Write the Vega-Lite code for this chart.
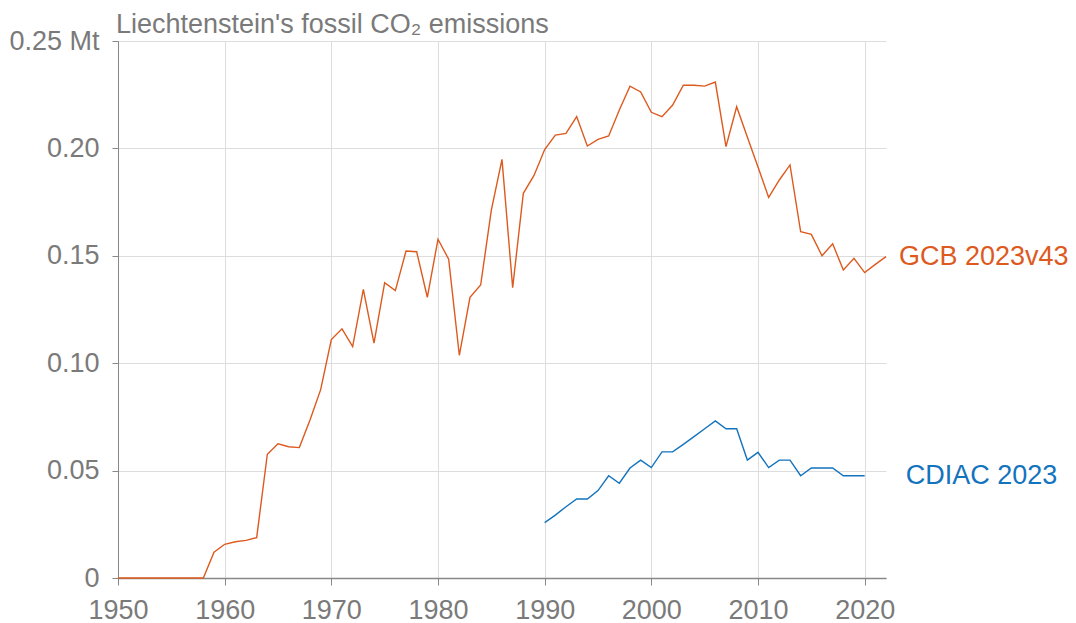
{
  "$schema": "https://vega.github.io/schema/vega-lite/v6.json",
  "width": 768,
  "height": 537,
  "autosize": {"type": "none"},
  "padding": {"left": 118, "top": 41, "right": 190, "bottom": 45},
  "background": "white",
  "config": {
    "font": "Liberation Sans",
    "view": {"stroke": null},
    "axis": {"labelFont": "Liberation Sans", "labelFontSize": 27, "labelColor": "#7a7a7a", "gridColor": "#dddddd", "gridWidth": 1, "domainColor": "#888888", "tickColor": "#888888"}
  },
  "title": {"text": "Liechtenstein's fossil CO₂ emissions", "anchor": "start", "frame": "group", "fontSize": 27, "fontWeight": "normal", "color": "#7a7a7a", "font": "Liberation Sans", "offset": -12, "dx": -2},
  "datasets": {
    "emissions": [
      {"year": 1950, "value": 0, "series": "GCB 2023v43"},
      {"year": 1951, "value": 0, "series": "GCB 2023v43"},
      {"year": 1952, "value": 0, "series": "GCB 2023v43"},
      {"year": 1953, "value": 0, "series": "GCB 2023v43"},
      {"year": 1954, "value": 0, "series": "GCB 2023v43"},
      {"year": 1955, "value": 0, "series": "GCB 2023v43"},
      {"year": 1956, "value": 0, "series": "GCB 2023v43"},
      {"year": 1957, "value": 0, "series": "GCB 2023v43"},
      {"year": 1958, "value": 0, "series": "GCB 2023v43"},
      {"year": 1959, "value": 0.012, "series": "GCB 2023v43"},
      {"year": 1960, "value": 0.0157, "series": "GCB 2023v43"},
      {"year": 1961, "value": 0.0169, "series": "GCB 2023v43"},
      {"year": 1962, "value": 0.0175, "series": "GCB 2023v43"},
      {"year": 1963, "value": 0.0188, "series": "GCB 2023v43"},
      {"year": 1964, "value": 0.0576, "series": "GCB 2023v43"},
      {"year": 1965, "value": 0.0625, "series": "GCB 2023v43"},
      {"year": 1966, "value": 0.0611, "series": "GCB 2023v43"},
      {"year": 1967, "value": 0.0607, "series": "GCB 2023v43"},
      {"year": 1968, "value": 0.0736, "series": "GCB 2023v43"},
      {"year": 1969, "value": 0.0877, "series": "GCB 2023v43"},
      {"year": 1970, "value": 0.111, "series": "GCB 2023v43"},
      {"year": 1971, "value": 0.116, "series": "GCB 2023v43"},
      {"year": 1972, "value": 0.1077, "series": "GCB 2023v43"},
      {"year": 1973, "value": 0.1344, "series": "GCB 2023v43"},
      {"year": 1974, "value": 0.1093, "series": "GCB 2023v43"},
      {"year": 1975, "value": 0.1375, "series": "GCB 2023v43"},
      {"year": 1976, "value": 0.1338, "series": "GCB 2023v43"},
      {"year": 1977, "value": 0.1522, "series": "GCB 2023v43"},
      {"year": 1978, "value": 0.1519, "series": "GCB 2023v43"},
      {"year": 1979, "value": 0.1307, "series": "GCB 2023v43"},
      {"year": 1980, "value": 0.1577, "series": "GCB 2023v43"},
      {"year": 1981, "value": 0.1484, "series": "GCB 2023v43"},
      {"year": 1982, "value": 0.1037, "series": "GCB 2023v43"},
      {"year": 1983, "value": 0.1307, "series": "GCB 2023v43"},
      {"year": 1984, "value": 0.1364, "series": "GCB 2023v43"},
      {"year": 1985, "value": 0.1713, "series": "GCB 2023v43"},
      {"year": 1986, "value": 0.1949, "series": "GCB 2023v43"},
      {"year": 1987, "value": 0.1352, "series": "GCB 2023v43"},
      {"year": 1988, "value": 0.1791, "series": "GCB 2023v43"},
      {"year": 1989, "value": 0.1874, "series": "GCB 2023v43"},
      {"year": 1990, "value": 0.1995, "series": "GCB 2023v43"},
      {"year": 1991, "value": 0.2062, "series": "GCB 2023v43"},
      {"year": 1992, "value": 0.207, "series": "GCB 2023v43"},
      {"year": 1993, "value": 0.2148, "series": "GCB 2023v43"},
      {"year": 1994, "value": 0.2011, "series": "GCB 2023v43"},
      {"year": 1995, "value": 0.2042, "series": "GCB 2023v43"},
      {"year": 1996, "value": 0.2058, "series": "GCB 2023v43"},
      {"year": 1997, "value": 0.2179, "series": "GCB 2023v43"},
      {"year": 1998, "value": 0.229, "series": "GCB 2023v43"},
      {"year": 1999, "value": 0.2263, "series": "GCB 2023v43"},
      {"year": 2000, "value": 0.2168, "series": "GCB 2023v43"},
      {"year": 2001, "value": 0.2148, "series": "GCB 2023v43"},
      {"year": 2002, "value": 0.2202, "series": "GCB 2023v43"},
      {"year": 2003, "value": 0.2294, "series": "GCB 2023v43"},
      {"year": 2004, "value": 0.2294, "series": "GCB 2023v43"},
      {"year": 2005, "value": 0.229, "series": "GCB 2023v43"},
      {"year": 2006, "value": 0.2309, "series": "GCB 2023v43"},
      {"year": 2007, "value": 0.2008, "series": "GCB 2023v43"},
      {"year": 2008, "value": 0.2194, "series": "GCB 2023v43"},
      {"year": 2009, "value": 0.2053, "series": "GCB 2023v43"},
      {"year": 2010, "value": 0.1913, "series": "GCB 2023v43"},
      {"year": 2011, "value": 0.1772, "series": "GCB 2023v43"},
      {"year": 2012, "value": 0.1853, "series": "GCB 2023v43"},
      {"year": 2013, "value": 0.1923, "series": "GCB 2023v43"},
      {"year": 2014, "value": 0.1612, "series": "GCB 2023v43"},
      {"year": 2015, "value": 0.16, "series": "GCB 2023v43"},
      {"year": 2016, "value": 0.15, "series": "GCB 2023v43"},
      {"year": 2017, "value": 0.1556, "series": "GCB 2023v43"},
      {"year": 2018, "value": 0.1434, "series": "GCB 2023v43"},
      {"year": 2019, "value": 0.1488, "series": "GCB 2023v43"},
      {"year": 2020, "value": 0.1422, "series": "GCB 2023v43"},
      {"year": 2021, "value": 0.146, "series": "GCB 2023v43"},
      {"year": 2022, "value": 0.1496, "series": "GCB 2023v43"},
      {"year": 1990, "value": 0.0258, "series": "CDIAC 2023"},
      {"year": 1991, "value": 0.0293, "series": "CDIAC 2023"},
      {"year": 1992, "value": 0.0332, "series": "CDIAC 2023"},
      {"year": 1993, "value": 0.0368, "series": "CDIAC 2023"},
      {"year": 1994, "value": 0.0368, "series": "CDIAC 2023"},
      {"year": 1995, "value": 0.0407, "series": "CDIAC 2023"},
      {"year": 1996, "value": 0.0476, "series": "CDIAC 2023"},
      {"year": 1997, "value": 0.0441, "series": "CDIAC 2023"},
      {"year": 1998, "value": 0.0512, "series": "CDIAC 2023"},
      {"year": 1999, "value": 0.0549, "series": "CDIAC 2023"},
      {"year": 2000, "value": 0.0514, "series": "CDIAC 2023"},
      {"year": 2001, "value": 0.0587, "series": "CDIAC 2023"},
      {"year": 2002, "value": 0.0587, "series": "CDIAC 2023"},
      {"year": 2003, "value": 0.0622, "series": "CDIAC 2023"},
      {"year": 2004, "value": 0.0658, "series": "CDIAC 2023"},
      {"year": 2005, "value": 0.0695, "series": "CDIAC 2023"},
      {"year": 2006, "value": 0.0731, "series": "CDIAC 2023"},
      {"year": 2007, "value": 0.0695, "series": "CDIAC 2023"},
      {"year": 2008, "value": 0.0695, "series": "CDIAC 2023"},
      {"year": 2009, "value": 0.0549, "series": "CDIAC 2023"},
      {"year": 2010, "value": 0.0585, "series": "CDIAC 2023"},
      {"year": 2011, "value": 0.0514, "series": "CDIAC 2023"},
      {"year": 2012, "value": 0.0549, "series": "CDIAC 2023"},
      {"year": 2013, "value": 0.0549, "series": "CDIAC 2023"},
      {"year": 2014, "value": 0.0476, "series": "CDIAC 2023"},
      {"year": 2015, "value": 0.0512, "series": "CDIAC 2023"},
      {"year": 2016, "value": 0.0512, "series": "CDIAC 2023"},
      {"year": 2017, "value": 0.0512, "series": "CDIAC 2023"},
      {"year": 2018, "value": 0.0476, "series": "CDIAC 2023"},
      {"year": 2019, "value": 0.0476, "series": "CDIAC 2023"},
      {"year": 2020, "value": 0.0476, "series": "CDIAC 2023"}
    ]
  },
  "data": {"name": "emissions"},
  "encoding": {
    "x": {"field": "year", "type": "quantitative", "scale": {"domain": [1950, 2022], "nice": false, "zero": false},
      "axis": {"title": null, "values": [1950, 1960, 1970, 1980, 1990, 2000, 2010, 2020], "format": "d", "tickSize": 7, "labelPadding": 12, "domainColor": "#888888", "domainWidth": 1.5, "labelFlush": false}},
    "y": {"field": "value", "type": "quantitative", "scale": {"domain": [0, 0.25], "nice": false},
      "axis": {"title": null, "values": [0, 0.05, 0.1, 0.15, 0.2, 0.25], "tickSize": 6, "labelPadding": 13, "domainColor": "#888888", "labelExpr": "datum.value == 0 ? '0' : (datum.value > 0.249 ? '0.25 Mt' : format(datum.value, '.2f'))"}},
    "color": {"field": "series", "type": "nominal", "scale": {"domain": ["GCB 2023v43", "CDIAC 2023"], "range": ["#dd5a1e", "#1373bd"]}, "legend": null}
  },
  "layer": [
    {"mark": {"type": "line", "strokeWidth": 1.4}},
    {
      "transform": [{"filter": "datum.series == 'GCB 2023v43' && datum.year == 2022"}],
      "mark": {"type": "text", "align": "left", "baseline": "middle", "dx": 13, "fontSize": 27, "font": "Liberation Sans"},
      "encoding": {"text": {"field": "series"}}
    },
    {
      "transform": [{"filter": "datum.series == 'CDIAC 2023' && datum.year == 2020"}],
      "mark": {"type": "text", "align": "left", "baseline": "middle", "dx": 41, "fontSize": 27, "font": "Liberation Sans"},
      "encoding": {"text": {"field": "series"}}
    }
  ]
}
